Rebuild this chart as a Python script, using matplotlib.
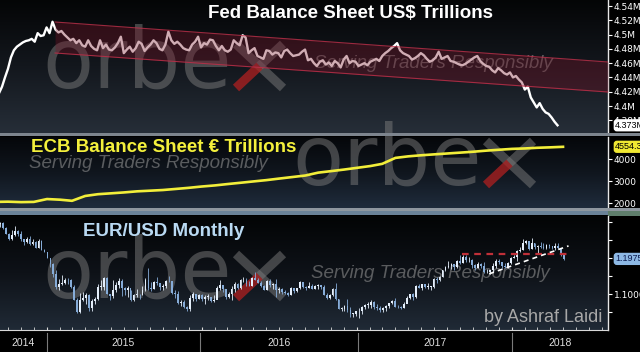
import numpy as np
import pandas as pd
import matplotlib
matplotlib.use('Agg')
import matplotlib.pyplot as plt
import matplotlib.dates as mdates
import matplotlib.transforms as mtrans
from matplotlib.colors import LinearSegmentedColormap
from matplotlib.lines import Line2D
from matplotlib.patches import Rectangle

# ---------------- data ----------------
# Fed total assets, US$ trillions, weekly
fed = [4.418, 4.427, 4.440, 4.452, 4.468, 4.478, 4.483, 4.486, 4.489, 4.491,
       4.492, 4.494, 4.490, 4.502, 4.498, 4.499, 4.510, 4.502, 4.518, 4.507,
       4.503, 4.505, 4.500, 4.496, 4.492, 4.494, 4.488, 4.492, 4.485, 4.483,
       4.492, 4.484, 4.480, 4.478, 4.492, 4.481, 4.486, 4.479, 4.478, 4.482,
       4.488, 4.497, 4.474, 4.479, 4.483, 4.476, 4.481, 4.490, 4.487, 4.477,
       4.482, 4.486, 4.492, 4.488, 4.480, 4.478, 4.486, 4.504, 4.492, 4.487,
       4.490, 4.486, 4.481, 4.479, 4.478, 4.486, 4.490, 4.497, 4.482, 4.488,
       4.486, 4.493, 4.492, 4.484, 4.478, 4.484, 4.478, 4.476, 4.479, 4.492,
       4.488, 4.485, 4.499, 4.496, 4.474, 4.478, 4.481, 4.470, 4.468, 4.466,
       4.478, 4.477, 4.472, 4.475, 4.474, 4.468, 4.477, 4.479, 4.474, 4.470,
       4.471, 4.472, 4.476, 4.479, 4.464, 4.466, 4.460, 4.456, 4.462, 4.464,
       4.458, 4.461, 4.456, 4.463, 4.460, 4.454, 4.465, 4.470, 4.460, 4.463,
       4.462, 4.456, 4.458, 4.460, 4.457, 4.462, 4.464, 4.466, 4.463, 4.470,
       4.474, 4.477, 4.481, 4.484, 4.488, 4.478, 4.474, 4.472, 4.470, 4.465,
       4.467, 4.470, 4.474, 4.471, 4.466, 4.462, 4.464, 4.468, 4.476, 4.466,
       4.468, 4.470, 4.463, 4.462, 4.460, 4.458, 4.457, 4.459, 4.462, 4.465,
       4.468, 4.470, 4.463, 4.459, 4.456, 4.455, 4.450, 4.447, 4.453, 4.450,
       4.446, 4.444, 4.447, 4.440, 4.442, 4.437, 4.433, 4.423, 4.427, 4.412,
       4.405, 4.398, 4.404, 4.396, 4.391, 4.389, 4.384, 4.378, 4.373]
fed_dates = pd.date_range('2014-09-10', periods=len(fed), freq='7D')
fed_last = 4.373

# ECB balance sheet, EUR billions, monthly
ecb = [2050, 2060, 2040, 2050, 2180, 2150, 2100, 2320, 2400, 2440,
       2480, 2530, 2560, 2590, 2640, 2690, 2750, 2800, 2860, 2920,
       2980, 3040, 3110, 3180, 3250, 3380, 3450, 3520, 3600, 3680,
       3780, 4050, 4120, 4170, 4210, 4250, 4290, 4330, 4380, 4420,
       4460, 4480, 4510, 4530, 4554.3]
ecb_dates = pd.date_range('2014-09-01', periods=len(ecb), freq='MS')
ecb_last = 4554.3

# EUR/USD weekly candles
eur_first_open = 1.2950
eur_close = [1.2960, 1.2830, 1.2680, 1.2520, 1.2630, 1.2760, 1.2670, 1.2520, 1.2450, 1.2530,
             1.2390, 1.2450, 1.2290, 1.2470, 1.2230, 1.2180,
             1.2000, 1.1840, 1.1560, 1.1200, 1.1290, 1.1310, 1.1390, 1.1380, 1.1190, 1.0840,
             1.0490, 1.0820, 1.0890, 1.0970, 1.0600, 1.0810, 1.0870, 1.1200, 1.1200, 1.1450,
             1.1010, 1.0950, 1.1110, 1.1260, 1.1350, 1.1160, 1.1110, 1.1160, 1.0830, 1.0980,
             1.0980, 1.0970, 1.1100, 1.1380, 1.1180, 1.1150, 1.1340, 1.1300, 1.1190, 1.1210,
             1.1360, 1.1350, 1.1020, 1.1000, 1.0740, 1.0770, 1.0650, 1.0590, 1.0880, 1.0990,
             1.0870, 1.0970,
             1.0860, 1.0920, 1.0920, 1.0800, 1.0830, 1.1160, 1.1260, 1.1130, 1.0930, 1.1000,
             1.1150, 1.1270, 1.1170, 1.1390, 1.1400, 1.1280, 1.1230, 1.1450, 1.1400, 1.1310,
             1.1220, 1.1110, 1.1370, 1.1250, 1.1280, 1.1120, 1.1140, 1.1050, 1.1040, 1.0980,
             1.1170, 1.1090, 1.1160, 1.1320, 1.1200, 1.1160, 1.1230, 1.1150, 1.1230, 1.1240,
             1.1200, 1.0970, 1.0880, 1.0980, 1.1140, 1.0850, 1.0590, 1.0590, 1.0660, 1.0560,
             1.0450, 1.0450, 1.0520,
             1.0530, 1.0640, 1.0700, 1.0700, 1.0780, 1.0640, 1.0620, 1.0560, 1.0620, 1.0680,
             1.0740, 1.0800, 1.0650, 1.0640, 1.0620, 1.0730, 1.0900, 1.0990, 1.0930, 1.1210,
             1.1170, 1.1280, 1.1200, 1.1200, 1.1200, 1.1420, 1.1400, 1.1470, 1.1660, 1.1750,
             1.1770, 1.1820, 1.1760, 1.1920, 1.1860, 1.2030, 1.1940, 1.1950, 1.1810, 1.1730,
             1.1820, 1.1780, 1.1610, 1.1610, 1.1660, 1.1790, 1.1930, 1.1890, 1.1770, 1.1750,
             1.1860, 1.2000,
             1.2030, 1.2200, 1.2220, 1.2430, 1.2460, 1.2250, 1.2410, 1.2300, 1.2320, 1.2310,
             1.2290, 1.2350, 1.2320, 1.2280, 1.2330, 1.2290, 1.2130, 1.1960]
eur_high = [1.3000, 1.2990, 1.2860, 1.2700, 1.2790, 1.2890, 1.2770, 1.2750, 1.2530, 1.2580,
            1.2600, 1.2530, 1.2460, 1.2530, 1.2500, 1.2260,
            1.2170, 1.1950, 1.1870, 1.1680, 1.1420, 1.1530, 1.1450, 1.1440, 1.1430, 1.1240,
            1.0900, 1.1040, 1.1050, 1.1030, 1.1000, 1.0850, 1.0920, 1.1290, 1.1390, 1.1470,
            1.1460, 1.1000, 1.1380, 1.1330, 1.1440, 1.1410, 1.1200, 1.1210, 1.1120, 1.1000,
            1.1130, 1.1000, 1.1210, 1.1440, 1.1710, 1.1330, 1.1370, 1.1460, 1.1300, 1.1290,
            1.1390, 1.1500, 1.1370, 1.1100, 1.1080, 1.0830, 1.0820, 1.0660, 1.0980, 1.1050,
            1.1000, 1.0990,
            1.0990, 1.0970, 1.0990, 1.0930, 1.0960, 1.1230, 1.1380, 1.1230, 1.1140, 1.1050,
            1.1220, 1.1340, 1.1300, 1.1410, 1.1460, 1.1450, 1.1360, 1.1470, 1.1620, 1.1450,
            1.1350, 1.1250, 1.1390, 1.1420, 1.1300, 1.1430, 1.1190, 1.1180, 1.1120, 1.1060,
            1.1200, 1.1170, 1.1170, 1.1360, 1.1330, 1.1230, 1.1330, 1.1290, 1.1260, 1.1270,
            1.1240, 1.1240, 1.1040, 1.0990, 1.1160, 1.1300, 1.0860, 1.0640, 1.0690, 1.0870,
            1.0650, 1.0470, 1.0520,
            1.0620, 1.0680, 1.0720, 1.0780, 1.0830, 1.0800, 1.0710, 1.0680, 1.0640, 1.0700,
            1.0750, 1.0830, 1.0900, 1.0690, 1.0680, 1.0780, 1.0950, 1.0990, 1.1020, 1.1260,
            1.1270, 1.1290, 1.1290, 1.1300, 1.1230, 1.1450, 1.1460, 1.1490, 1.1680, 1.1780,
            1.1910, 1.1850, 1.1830, 1.1940, 1.2070, 1.2090, 1.2090, 1.2030, 1.1960, 1.1830,
            1.1880, 1.1870, 1.1880, 1.1690, 1.1680, 1.1860, 1.1960, 1.1960, 1.1900, 1.1860,
            1.1880, 1.2020,
            1.2090, 1.2220, 1.2300, 1.2540, 1.2500, 1.2470, 1.2560, 1.2410, 1.2350, 1.2450,
            1.2410, 1.2390, 1.2380, 1.2340, 1.2410, 1.2410, 1.2290, 1.2130]
eur_low = [1.2860, 1.2815, 1.2680, 1.2500, 1.2500, 1.2620, 1.2610, 1.2480, 1.2360, 1.2420,
           1.2360, 1.2360, 1.2280, 1.2280, 1.2220, 1.2160,
           1.1990, 1.1750, 1.1460, 1.1150, 1.1100, 1.1260, 1.1270, 1.1280, 1.1170, 1.0840,
           1.0460, 1.0460, 1.0800, 1.0710, 1.0520, 1.0520, 1.0710, 1.0820, 1.1120, 1.1110,
           1.1000, 1.0820, 1.0890, 1.1050, 1.1180, 1.0950, 1.0970, 1.0920, 1.0810, 1.0810,
           1.0920, 1.0850, 1.0960, 1.1080, 1.1100, 1.1090, 1.1140, 1.1250, 1.1100, 1.1110,
           1.1180, 1.1320, 1.1000, 1.0900, 1.0710, 1.0680, 1.0620, 1.0530, 1.0520, 1.0800,
           1.0800, 1.0850,
           1.0800, 1.0710, 1.0830, 1.0780, 1.0770, 1.0850, 1.1120, 1.1060, 1.0860, 1.0880,
           1.0830, 1.1050, 1.1140, 1.1140, 1.1330, 1.1230, 1.1220, 1.1220, 1.1380, 1.1300,
           1.1200, 1.1100, 1.1100, 1.1200, 1.1130, 1.0910, 1.1030, 1.1000, 1.1000, 1.0950,
           1.0980, 1.1040, 1.1050, 1.1140, 1.1180, 1.1120, 1.1160, 1.1150, 1.1150, 1.1150,
           1.1130, 1.0960, 1.0860, 1.0850, 1.0950, 1.0820, 1.0570, 1.0520, 1.0540, 1.0500,
           1.0370, 1.0350, 1.0390,
           1.0340, 1.0450, 1.0580, 1.0620, 1.0620, 1.0590, 1.0560, 1.0500, 1.0500, 1.0520,
           1.0600, 1.0710, 1.0650, 1.0600, 1.0570, 1.0620, 1.0820, 1.0850, 1.0840, 1.0900,
           1.1160, 1.1110, 1.1170, 1.1130, 1.1120, 1.1170, 1.1310, 1.1370, 1.1460, 1.1630,
           1.1730, 1.1690, 1.1660, 1.1730, 1.1820, 1.1850, 1.1880, 1.1880, 1.1720, 1.1670,
           1.1710, 1.1730, 1.1570, 1.1570, 1.1550, 1.1610, 1.1720, 1.1820, 1.1720, 1.1720,
           1.1720, 1.1840,
           1.1990, 1.1920, 1.2170, 1.2220, 1.2380, 1.2210, 1.2260, 1.2260, 1.2150, 1.2270,
           1.2250, 1.2240, 1.2270, 1.2250, 1.2220, 1.2260, 1.2060, 1.1950]
eur_dates = pd.date_range('2014-09-12', periods=len(eur_close), freq='7D')
eur_last = 1.1975

# trend lines drawn on the chart
fed_channel_dates = ['2015-01-20', '2018-08-15']
fed_channel_top = [4.5176, 4.4616]
fed_channel_bottom = [4.4742, 4.4196]
eur_resist_dates = ['2017-09-05', '2018-05-18']
eur_resist = [1.2110, 1.2110]
eur_support_dates = ['2017-11-08', '2018-05-14']
eur_support = [1.1560, 1.2336]

years = ['2014', '2015', '2016', '2017', '2018']

# ---------------- figure ----------------
W, H = 640, 352
fig = plt.figure(figsize=(6.4, 3.52), dpi=100)
fig.patch.set_facecolor('black')


def fx(px):
    return px / W


def fy(py):
    return 1 - py / H


xlim = (mdates.date2num(pd.Timestamp('2014-09-12 06:00')),
        mdates.date2num(pd.Timestamp('2018-08-15')))


def gradient(ax, colors):
    cmap = LinearSegmentedColormap.from_list('bg', colors)
    ax.imshow(np.linspace(1, 0, 256).reshape(-1, 1), extent=[0, 1, 0, 1],
              transform=ax.transAxes, cmap=cmap, aspect='auto', zorder=0)


def style_axis(ax):
    for s in ['top', 'left', 'bottom']:
        ax.spines[s].set_visible(False)
    ax.spines['right'].set_color('#e8e8e8')
    ax.spines['right'].set_linewidth(1.0)
    ax.yaxis.tick_right()
    ax.tick_params(axis='y', colors='white', labelcolor='white', labelsize=6.5,
                   length=3, width=0.8, pad=1)
    ax.tick_params(axis='x', bottom=False, labelbottom=False)
    ax.set_xlim(*xlim)


def watermark(ax, left, base, xpos):
    # "orbe" as text, the x drawn as two strokes (one half red)
    ax.text(fx(left), fy(base), 'orbe', transform=fig.transFigure, fontsize=60,
            family='DejaVu Sans', color='#7c7c7c', alpha=0.5, ha='left', va='baseline',
            zorder=1, clip_on=False)
    x0, x1 = xpos, xpos + 47
    top, bot = base - 44, base
    xm, ym = (x0 + x1) / 2, (top + bot) / 2
    kw = dict(transform=fig.transFigure, lw=6.5, solid_capstyle='butt', zorder=1, clip_on=False)
    ax.add_line(Line2D([fx(x0), fx(x1)], [fy(top), fy(bot)], color='#7c7c7c', alpha=0.5, **kw))
    ax.add_line(Line2D([fx(x1), fx(xm)], [fy(top), fy(ym)], color='#7c7c7c', alpha=0.5, **kw))
    ax.add_line(Line2D([fx(xm), fx(x0)], [fy(ym), fy(bot)], color='#b02020', alpha=0.75, **kw))


def serving(ax, cx, cy):
    ax.text(fx(cx), fy(cy), 'Serving Traders Responsibly', transform=fig.transFigure,
            fontsize=13.5, family='Liberation Sans', style='italic', color='#9a9a9a',
            alpha=0.55, ha='center', va='center', zorder=2, clip_on=False)


def tag(ax, y, text, fc, tc):
    tr = mtrans.blended_transform_factory(ax.transAxes, ax.transData)
    ax.text(1.012, y, text, transform=tr, fontsize=6.5, color=tc, ha='left', va='center',
            family='Liberation Sans', zorder=10, clip_on=False,
            bbox=dict(boxstyle='round,pad=0.18,rounding_size=0.35', fc=fc, ec='none'))


# ---- panel 1 : Fed ----
ax1 = fig.add_axes([0, fy(133), fx(608), 133 / H])
gradient(ax1, ['#262e38', '#13171d', '#040506'])
style_axis(ax1)
ax1.set_ylim(4.3622, 4.5484)
fed_ticks = [4.38, 4.40, 4.42, 4.44, 4.46, 4.48, 4.50, 4.52, 4.54]
ax1.set_yticks(fed_ticks)
ax1.set_yticklabels([f'{v:g}M' for v in fed_ticks])
watermark(ax1, 42, 88, 236)
serving(ax1, 433, 63)
ax1.plot(fed_dates, fed, color='white', lw=1.7, zorder=4)
cd = mdates.date2num(pd.to_datetime(fed_channel_dates))
ax1.fill_between(cd, fed_channel_bottom, fed_channel_top, color='#7a1428', alpha=0.35,
                 lw=0, zorder=5)
ax1.plot(cd, fed_channel_top, color='#c0304a', lw=0.8, alpha=0.8, zorder=5)
ax1.plot(cd, fed_channel_bottom, color='#c0304a', lw=0.8, alpha=0.8, zorder=5)
ax1.set_xlim(*xlim)
fig.text(fx(350), fy(14), 'Fed Balance Sheet US$ Trillions', fontsize=13.5, weight='bold',
         family='Liberation Sans', color='white', ha='center', va='center', zorder=20)
tag(ax1, fed_last, f'{fed_last}M', 'white', 'black')

# ---- panel 2 : ECB ----
ax2 = fig.add_axes([0, fy(208), fx(608), 71 / H])
gradient(ax2, ['#1f2c3c', '#10161e', '#05070a'])
style_axis(ax2)
ax2.set_ylim(1773, 5000)
ax2.set_yticks([2000, 3000, 4000])
serving(ax2, 148, 163)
ax2.plot(ecb_dates, ecb, color='#f2ee3a', lw=1.9, zorder=4)
ax2.set_xlim(*xlim)
fig.text(fx(164), fy(147), 'ECB Balance Sheet € Trillions', fontsize=13.5, weight='bold',
         family='Liberation Sans', color='#f4f03c', ha='center', va='center', zorder=20)
tag(ax2, ecb_last, f'{ecb_last}', '#f0e832', 'black')

# ---- panel 3 : EUR/USD ----
ax3 = fig.add_axes([0, fy(330), fx(608), 114 / H])
gradient(ax3, ['#202a36', '#0e1218', '#030405'])
style_axis(ax3)
ax3.set_ylim(1.0, 1.3167)
eur_ticks = [1.05, 1.10, 1.15, 1.20, 1.25, 1.30]
ax3.set_yticks(eur_ticks)
ax3.set_yticklabels(['1.1000' if abs(v - 1.10) < 1e-9 else '' for v in eur_ticks])
watermark(ax3, 42, 298, 236)
serving(ax3, 430, 274)

xs = mdates.date2num(eur_dates)
opens = np.array([eur_first_open] + eur_close[:-1])
closes = np.array(eur_close)
up = closes >= opens
cols = np.where(up, '#e4eefa', '#86acd8')
ax3.vlines(xs, eur_low, eur_high, colors=cols, lw=0.6, zorder=3)
body_low = np.minimum(opens, closes)
body_h = np.maximum(np.abs(closes - opens), 0.0012)
ax3.bar(xs, body_h, bottom=body_low, width=4.2, color=cols, lw=0, zorder=4)

rd = mdates.date2num(pd.to_datetime(eur_resist_dates))
ax3.plot(rd, eur_resist, color='#c03038', lw=1.6, ls=(0, (3, 2.5)), zorder=5)
sd = mdates.date2num(pd.to_datetime(eur_support_dates))
ax3.plot(sd, eur_support, color='white', lw=1.2, ls=(0, (3, 2.5)), zorder=5)
ax3.set_xlim(*xlim)

# bottom time axis
ax3.spines['bottom'].set_visible(True)
ax3.spines['bottom'].set_color('#d8d8d8')
ax3.spines['bottom'].set_linewidth(0.8)
ax3.xaxis.set_minor_locator(mdates.MonthLocator())
ax3.xaxis.set_major_locator(mdates.YearLocator())
ax3.tick_params(axis='x', which='both', bottom=True, direction='in', length=2.5,
                color='#d8d8d8', labelbottom=False)

fig.text(fx(164), fy(231), 'EUR/USD Monthly', fontsize=13.5, weight='bold',
         family='Liberation Sans', color='#b9d9f2', ha='center', va='center', zorder=20)
tag(ax3, eur_last, f'{eur_last:.4f}', '#8db8e4', '#0c1c50')

# orbex watermark that floats over panels 1/2
watermark(ax2, 292, 185, 486)

ax3.text(fx(543), fy(317), 'by Ashraf Laidi', transform=fig.transFigure, fontsize=13,
         family='Liberation Sans', color='#a8a8a8', ha='center', va='center', zorder=6,
         clip_on=False)

# year labels and separators
bounds = [0, 47, 200, 358, 512, 608]
for i, yr in enumerate(years):
    fig.text(fx((bounds[i] + bounds[i + 1]) / 2), fy(343), yr, fontsize=7.5,
             family='Liberation Sans', color='#e0e0e0', ha='center', va='center')
for b in bounds[1:-1]:
    fig.add_artist(Line2D([fx(b), fx(b)], [fy(333), fy(352)], color='#7a7a7a', lw=0.8))

# panel separator bands
fig.add_artist(Rectangle((0, fy(136)), 1, 3 / H, transform=fig.transFigure,
                         color='#7d858e', lw=0))
fig.add_artist(Rectangle((0, fy(211)), 1, 3 / H, transform=fig.transFigure,
                         color='#8e979f', lw=0))
fig.add_artist(Rectangle((0, fy(214.5)), fx(608), 3.5 / H, transform=fig.transFigure,
                         color='#6a8298', lw=0))
fig.add_artist(Rectangle((fx(608), fy(216)), fx(32), 5 / H, transform=fig.transFigure,
                         color='#5f7e6c', lw=0))

fig.savefig('out.png', dpi=100, facecolor=fig.get_facecolor())
